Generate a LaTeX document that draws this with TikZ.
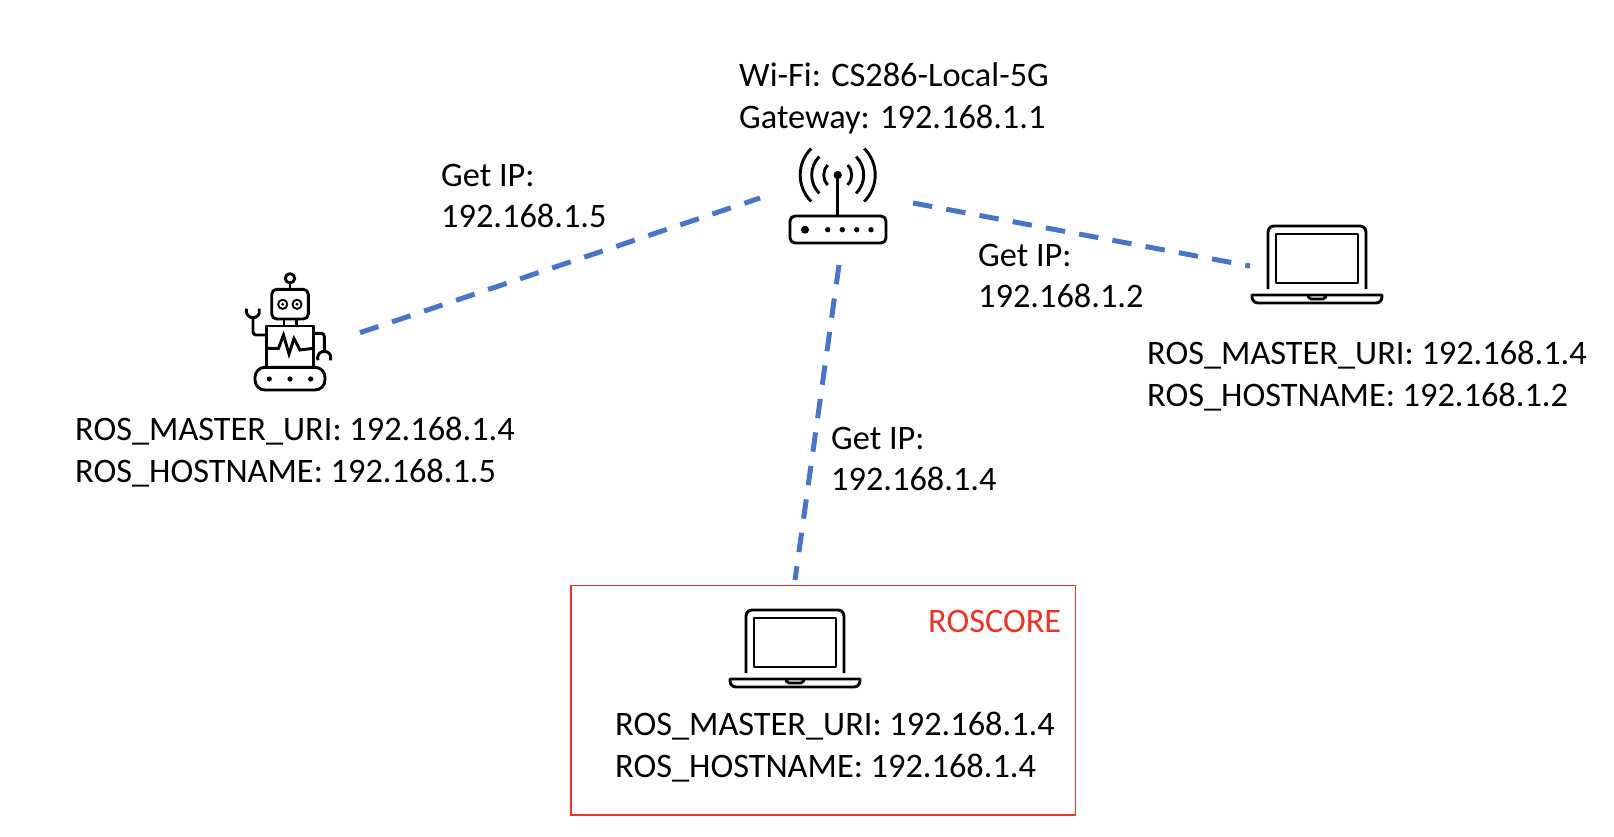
\documentclass[tikz,border=0pt]{standalone}
\usepackage{fontspec}
\setmainfont{Carlito}
\definecolor{linkblue}{HTML}{4A74C6}
\definecolor{rosred}{HTML}{EC3325}
\tikzset{
  x=1pt,y=-1pt,
  label text/.style={anchor=base west,inner sep=0pt,font=\fontsize{34.35}{40}\selectfont,text=black},
  link/.style={draw=linkblue,line width=5pt,dash pattern=on 19.5pt off 14.3pt},
  icon/.style={draw=black,line width=2.9pt,line join=round},
  laptop/.pic={
    \draw[icon] (-49,64) -- (-49,7) arc[start angle=180,end angle=270,radius=6] -- (43,1) arc[start angle=270,end angle=360,radius=6] -- (49,64);
    \draw[icon] (-41,9) rectangle (41,58);
    \draw[icon] (-65,70) -- (65,70) -- (65,72) arc[start angle=0,end angle=90,radius=6] -- (-59,78) arc[start angle=90,end angle=180,radius=6] -- cycle;
    \draw[icon,rounded corners=2pt] (-9,70) -- (-8,74) -- (8,74) -- (9,70);
  }
}
\begin{document}
\begin{tikzpicture}
\useasboundingbox (0,0) rectangle (1614,836);
% named connector ends
\coordinate (robotEnd) at (360,332.7);
\coordinate (routerL) at (760,198);
\coordinate (routerR) at (913,203);
\coordinate (laptopREnd) at (1250,266);
\coordinate (routerB) at (839,265);
\coordinate (laptopCEnd) at (795,580);
\draw[link] (robotEnd) -- (routerL);
\draw[link] (routerR) -- (laptopREnd);
\draw[link] (routerB) -- (laptopCEnd);
% router
\coordinate (ball) at (837.7,175);
\fill (ball) circle (4.2);
\draw[icon] (ball) -- (837.7,216);
\foreach \rad in {14,26,37.5}{
  \draw[icon] ([shift={(135:\rad)}]ball) arc[start angle=135,end angle=225,radius=\rad];
  \draw[icon] ([shift={(-45:\rad)}]ball) arc[start angle=-45,end angle=45,radius=\rad];
}
\draw[icon,rounded corners=5pt] (790,216) rectangle (886,243);
\fill (805,229.7) circle (4);
\foreach \dx in {827.7,842.3,856.7,871}{\fill (\dx,229.7) circle (2.7);}
% robot
\draw[icon] (290,278.3) circle (4.7);
\draw[icon] (290,283) -- (290,289.3);
\draw[icon,rounded corners=5pt] (271.7,289.3) rectangle (308.3,319);
\draw[icon,line width=1.9pt] (282.7,304.3) circle (4.6);
\draw[icon,line width=1.9pt] (297,304.3) circle (4.6);
\fill (282.7,304.3) circle (1.6);
\fill (297,304.3) circle (1.6);
\draw[icon] (284,319) -- (284,326);
\draw[icon] (296.7,319) -- (296.7,326);
\draw[icon] (266.7,326) rectangle (313.3,367);
\draw[icon,line join=miter] (266.7,348.3) -- (278.5,348.3) -- (283.5,335) -- (289,354) -- (294,338.5) -- (300,350) -- (313.3,348.3);
\draw[icon] (266.7,335) -- (256,335) arc[start angle=90,end angle=180,radius=3] -- (253,317.5);
\draw[icon] ([shift={(200:6.7)}]253,311) arc[start angle=200,end angle=-20,radius=6.7];
\draw[icon] (313.3,333.3) -- (321.3,333.3) arc[start angle=270,end angle=360,radius=3] -- (324.3,351.5);
\draw[icon] ([shift={(160:6.7)}]324.3,358) arc[start angle=160,end angle=380,radius=6.7];
\draw[icon,rounded corners=10pt] (255,367.3) rectangle (325,390);
\foreach \dx in {269.3,290,310.7}{\fill (\dx,379) circle (2.6);}
% laptops
\pic at (1317,225) {laptop};
\pic at (795,609) {laptop};
% roscore box
\node[draw=rosred,line width=1.8pt,inner sep=0pt,minimum width=504.5pt,minimum height=229.5pt,anchor=north west] (roscoreBox) at (570,584.5) {};
\node[label text,text=rosred] (roscore) at (928,632) {ROSCORE};
% texts
\node[label text] (wifi) at (739,86.5) {Wi-Fi: CS286-Local-5G};
\node[label text] (gateway) at (739,128.5) {Gateway: 192.168.1.1};
\node[label text] (ipa) at (441,186.5) {Get IP:};
\node[label text] (ipb) at (441,227.5) {192.168.1.5};
\node[label text] (ipc) at (978,266.5) {Get IP:};
\node[label text] (ipd) at (978,307.5) {192.168.1.2};
\node[label text] (ipe) at (831,449.5) {Get IP:};
\node[label text] (ipf) at (831,490.5) {192.168.1.4};
\node[label text] (rl1) at (75,440.5) {ROS\_MASTER\_URI: 192.168.1.4};
\node[label text] (rl2) at (75,482.5) {ROS\_HOSTNAME: 192.168.1.5};
\node[label text] (rr1) at (1147,364.5) {ROS\_MASTER\_URI: 192.168.1.4};
\node[label text] (rr2) at (1147,406.5) {ROS\_HOSTNAME: 192.168.1.2};
\node[label text] (rc1) at (615,735.5) {ROS\_MASTER\_URI: 192.168.1.4};
\node[label text] (rc2) at (615,777.5) {ROS\_HOSTNAME: 192.168.1.4};
\end{tikzpicture}
\end{document}
